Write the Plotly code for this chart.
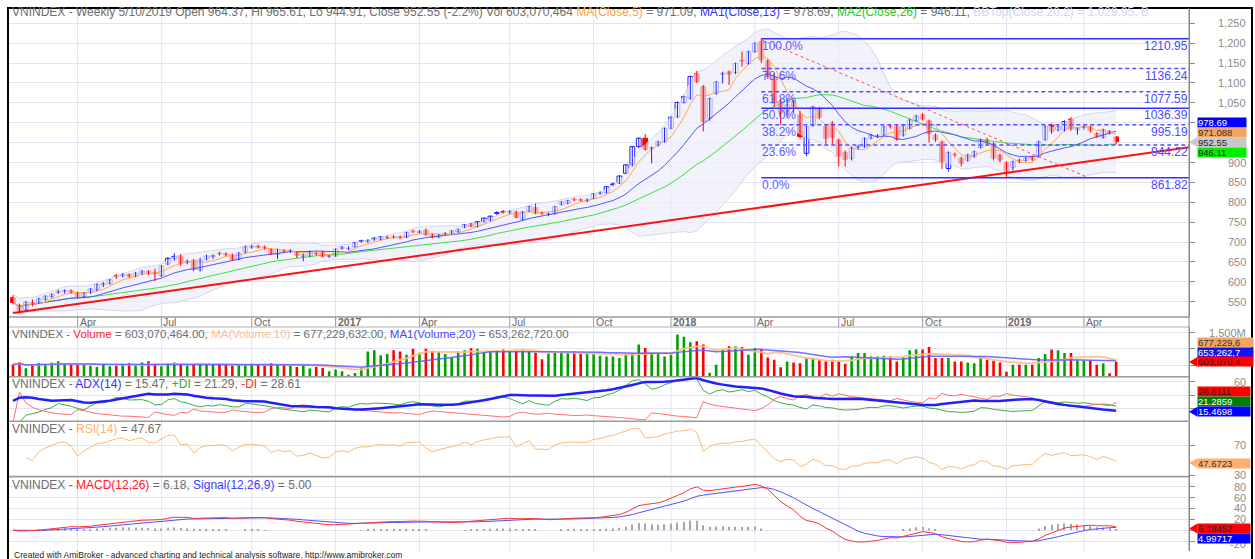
import numpy as np
import pandas as pd
import plotly.graph_objects as go

# ---------------- data (weekly VNINDEX) ----------------
opens = [560, 541, 530, 548, 547, 556, 563, 573, 576, 578, 573, 563, 573, 581, 592, 596, 615, 615, 619, 614,
         622, 627, 624, 616, 645, 658, 664, 648, 654, 630, 657, 663, 672, 671, 668, 657, 675, 687, 690, 688,
         681, 669, 677, 676, 673, 664, 665, 672, 674, 664, 665, 684, 683, 688, 701, 702, 706, 707, 711, 714,
         713, 712, 727, 724, 730, 718, 712, 720, 722, 726, 737, 745, 739, 751, 755, 772, 777, 775, 776, 757,
         778, 787, 774, 770, 771, 795, 797, 808, 807, 804, 810, 822, 824, 844, 848, 873, 894, 940, 961, 935,
         944, 952, 986, 1015, 1051, 1061, 1124, 1091, 1011, 1074, 1122, 1128, 1126, 1157, 1149, 1179, 1204, 1156, 1116, 1053,
         1030, 1053, 1020, 923, 994, 1036, 990, 999, 957, 925, 911, 938, 940, 961, 966, 969, 991, 990, 969, 986,
         1005, 1020, 1005, 969, 952, 885, 921, 911, 906, 916, 938, 957, 948, 919, 900, 888, 906, 905, 915, 915,
         957, 994, 982, 982, 1009, 982, 988, 990, 973, 963, 978, 964.37]
highs = [566, 545, 552, 556, 560, 566, 571, 580, 581, 581, 575, 574, 584, 596, 599, 607, 620, 622, 621, 625,
         630, 629, 633, 642, 662, 672, 670, 656, 657, 660, 668, 669, 676, 674, 671, 675, 691, 693, 693, 691,
         684, 683, 682, 682, 676, 671, 679, 676, 678, 668, 684, 690, 689, 700, 706, 707, 712, 715, 716, 717,
         716, 726, 731, 730, 734, 721, 720, 725, 730, 734, 745, 748, 753, 762, 767, 778, 780, 780, 779, 778,
         791, 797, 777, 774, 791, 803, 806, 811, 810, 810, 823, 827, 841, 850, 868, 896, 942, 963, 972, 940,
         955, 988, 1016, 1053, 1068, 1118, 1130, 1095, 1063, 1105, 1128, 1131, 1151, 1179, 1181, 1202, 1210.95, 1160, 1125, 1060,
         1062, 1058, 1030, 992, 1042, 1040, 995, 1004, 960, 930, 940, 945, 963, 972, 972, 992, 995, 995, 996, 1010,
         1020, 1024, 1008, 973, 955, 928, 925, 915, 922, 930, 960, 962, 951, 922, 903, 905, 910, 914, 918, 955,
         993, 998, 993, 1006, 1014, 988, 994, 993, 976, 985, 982, 965.61]
lows = [543, 522, 527, 538, 544, 552, 559, 569, 571, 570, 559, 560, 570, 576, 587, 593, 607, 611, 610, 612,
        618, 618, 602, 612, 642, 653, 640, 644, 627, 626, 654, 658, 666, 664, 653, 654, 672, 683, 684, 681,
        667, 657, 672, 673, 660, 652, 662, 666, 661, 660, 663, 681, 680, 686, 698, 698, 703, 705, 708, 709,
        707, 710, 722, 722, 716, 709, 710, 717, 719, 723, 735, 737, 737, 749, 753, 768, 772, 770, 760, 754,
        776, 770, 768, 765, 769, 792, 795, 803, 802, 800, 808, 819, 822, 841, 846, 871, 890, 936, 930, 898,
        940, 950, 984, 1012, 1048, 1058, 1100, 978, 1005, 1070, 1099, 1095, 1122, 1141, 1146, 1176, 1150, 1110, 1040, 995,
        1012, 1025, 960, 916, 990, 1010, 945, 944, 890, 890, 905, 933, 937, 958, 962, 966, 985, 955, 965, 983,
        1002, 1005, 950, 952, 884, 877, 913, 890, 902, 912, 935, 944, 905, 900, 861.82, 880, 898, 902, 903, 912,
        955, 972, 978, 978, 980, 970, 983, 975, 962, 960, 970, 944.91]
closes = [548, 528, 549, 546, 557, 564, 569, 576, 578, 574, 562, 572, 582, 593, 596, 605, 613, 618, 614, 622,
          627, 621, 620, 639, 659, 664, 646, 651, 631, 655, 665, 666, 670, 668, 656, 672, 688, 689, 687, 685,
          670, 680, 676, 679, 666, 668, 676, 670, 664, 665, 682, 687, 684, 698, 703, 704, 710, 713, 712, 713,
          711, 724, 726, 727, 718, 712, 718, 722, 728, 732, 743, 739, 751, 760, 765, 774, 775, 777, 762, 776,
          789, 772, 772, 771, 789, 801, 804, 806, 805, 806, 821, 824, 839, 846, 866, 894, 940, 961, 933, 937,
          952, 986, 1014, 1051, 1066, 1116, 1103, 1003, 1061, 1103, 1124, 1122, 1149, 1155, 1179, 1200, 1158, 1116, 1049, 1024,
          1045, 1040, 965, 990, 1040, 1014, 961, 963, 916, 908, 936, 940, 961, 969, 967, 990, 990, 957, 994, 1007,
          1017, 1009, 972, 957, 902, 925, 919, 898, 919, 927, 957, 948, 911, 906, 877, 902, 904, 911, 908, 952,
          990, 978, 990, 1003, 984, 985, 990, 980, 965, 982, 973, 952.55]
volume_m = [520, 580, 400, 500, 560, 520, 580, 620, 560, 520, 550, 500, 480, 440, 520, 460, 480, 500, 560, 520,
            580, 620, 520, 460, 560, 580, 500, 480, 520, 560, 540, 520, 560, 500, 480, 500, 520, 540, 520, 480,
            560, 520, 500, 480, 440, 520, 390, 440, 410, 310, 360, 310, 200, 250, 400, 920, 960, 800, 840, 960,
            920, 820, 1000, 880, 1000, 940, 900, 840, 720, 920, 960, 1020, 1000, 900, 920, 950, 980, 960, 940, 980,
            920, 880, 680, 860, 880, 920, 880, 920, 840, 880, 840, 788, 767, 767, 715, 820, 872, 1134, 1029, 872,
            872, 767, 820, 1448, 1374, 1207, 1238, 1134, 265, 505, 977, 1081, 1081, 1060, 820, 1029, 977, 736, 663, 432,
            610, 579, 558, 736, 715, 663, 631, 663, 610, 537, 767, 872, 872, 767, 767, 788, 767, 610, 767, 956,
            977, 977, 1060, 715, 715, 715, 610, 610, 579, 558, 767, 663, 631, 579, 296, 505, 505, 505, 505, 715,
            840, 977, 956, 872, 872, 642, 642, 642, 505, 558, 244, 603]

tick_idx = [10, 23, 37, 50, 63, 77, 90, 102, 115, 128, 141, 154, 166]
tick_text = ["Apr", "Jul", "Oct", "2017", "Apr", "Jul", "Oct", "2018", "Apr", "Jul", "Oct", "2019", "Apr"]
year_labels = ["2017", "2018", "2019"]

price_ticks = [550, 600, 650, 700, 750, 800, 850, 900, 950, 1000, 1050, 1100, 1150, 1200, 1250]
price_tick_labels = ["550", "600", "650", "700", "750", "800", "850", "900", "", "", "1,050", "1,100",
                     "1,150", "1,200", "1,250"]   # 950 / 1,000 sit behind the value tags
vol_ticks = [500, 1000, 1500]
adx_ticks = [20, 40, 60]
rsi_ticks = [30, 70]
macd_ticks = [-20, 0, 20, 40, 60, 80]

fib_labels = ["100.0%", "78.6%", "61.8%", "50.0%", "38.2%", "23.6%", "0.0%"]
fib_values = [1210.95, 1136.24, 1077.59, 1036.39, 995.19, 944.22, 861.82]
fib_solid = [True, False, False, True, False, False, True]
fib_start = 116
trend_x = [0, 182.3]
trend_y = [521.7, 938.5]
dash_x = [116.1, 166.7]
dash_y = [1208, 862]

N = len(closes)
assert len(opens) == len(highs) == len(lows) == N == len(volume_m)
idx = list(range(N))

# ---------------- indicators (computed from the series above) ----------------
c = pd.Series(closes, dtype=float)
h = pd.Series(highs, dtype=float)
l = pd.Series(lows, dtype=float)
ma5 = c.rolling(5, min_periods=1).mean()
ma13 = c.rolling(13, min_periods=1).mean()
ma26 = c.rolling(26, min_periods=1).mean()
bb_mid = c.rolling(20, min_periods=1).mean()
bb_sd = c.rolling(20, min_periods=2).std(ddof=0).bfill()
bb_up = bb_mid + 2 * bb_sd
bb_lo = bb_mid - 2 * bb_sd

v = pd.Series(volume_m, dtype=float)
vma10 = v.rolling(10, min_periods=1).mean()
vma20 = v.rolling(20, min_periods=1).mean()


def wilder(s, n):
    return s.ewm(alpha=1.0 / n, adjust=True).mean()


pc = c.shift(1)
tr = pd.concat([h - l, (h - pc).abs(), (l - pc).abs()], axis=1).max(axis=1)
upm = h - h.shift(1)
dnm = l.shift(1) - l
pdm = upm.where((upm > dnm) & (upm > 0), 0.0).fillna(0)
mdm = dnm.where((dnm > upm) & (dnm > 0), 0.0).fillna(0)
atr = wilder(tr, 14)
pdi = 100 * wilder(pdm, 14) / atr
mdi = 100 * wilder(mdm, 14) / atr
dx = (100 * (pdi - mdi).abs() / (pdi + mdi))
dx.iloc[0] = dx.iloc[1:15].mean()   # Wilder seed: mean of the first 14 DX values
adx = dx.ewm(alpha=1 / 14, adjust=False).mean()

delta = c.diff()
gain = delta.clip(lower=0)
loss = (-delta).clip(lower=0)
ag = gain.ewm(alpha=1 / 14, adjust=True, min_periods=2).mean()
al = loss.ewm(alpha=1 / 14, adjust=True, min_periods=2).mean()
rsi = 100 - 100 / (1 + ag / al)

ema12 = c.ewm(span=12, adjust=False).mean()
ema26 = c.ewm(span=26, adjust=False).mean()
macd = ema12 - ema26
signal = macd.ewm(span=9, adjust=False).mean()
hist = macd - signal

# ---------------- geometry helpers ----------------
W, H = 1255, 559
ML, MR, MT, MB = 8, 66, 8, 8
PW = W - ML - MR
PH = H - MT - MB


def px(x):
    return (x - ML) / PW


def py(y):
    return (H - MB - y) / PH


panels = {
    "price": (8, 317),
    "vol": (327, 376.5),
    "adx": (377, 421),
    "rsi": (421.5, 476.5),
    "macd": (477, 551),
}
# value v0 sits at pixel row y0, s pixels per unit
scales = {
    "price": (1250, 23.3, 278.4 / 700),
    "vol": (1500, 332.7, 0.03233),
    "adx": (60, 381.7, 0.674),
    "rsi": (70, 445, 0.75),
    "macd": (0, 530.2, 0.545),
}


def rng(key):
    v0, y0, s = scales[key]
    ytop, ybot = panels[key]
    return [v0 - (ybot - y0) / s, v0 + (y0 - ytop) / s]


def val_to_py(key, val):
    v0, y0, s = scales[key]
    return y0 - (val - v0) * s


FONT = "Liberation Sans, Arial, sans-serif"
GRID = "#e3e3f3"
UP = "#2020ff"
DN = "#ff0000"

fig = go.Figure()

# Bollinger band
fig.add_trace(go.Scatter(x=idx, y=bb_lo, mode="lines", line=dict(color="rgba(210,210,238,0.9)", width=1),
                         hoverinfo="skip", showlegend=False, yaxis="y"))
fig.add_trace(go.Scatter(x=idx, y=bb_up, mode="lines", line=dict(color="rgba(210,210,238,0.9)", width=1),
                         fill="tonexty", fillcolor="rgba(236,236,250,0.7)", hoverinfo="skip", showlegend=False,
                         yaxis="y"))
# trend line (solid red)
fig.add_trace(go.Scatter(x=trend_x, y=trend_y, mode="lines", line=dict(color="#ff1010", width=2),
                         showlegend=False, yaxis="y"))
# moving averages
fig.add_trace(go.Scatter(x=idx, y=ma26, mode="lines", line=dict(color="#44dd44", width=1), showlegend=False))
fig.add_trace(go.Scatter(x=idx, y=ma13, mode="lines", line=dict(color="#5555ff", width=1), showlegend=False))
fig.add_trace(go.Scatter(x=idx, y=ma5, mode="lines", line=dict(color="#ffa850", width=1), showlegend=False))

# candles: wicks then bodies
up_mask = [cl >= op for op, cl in zip(opens, closes)]
for is_up, col in [(True, UP), (False, DN)]:
    wx, wy = [], []
    for i in idx:
        if up_mask[i] == is_up:
            wx += [i, i, None]
            wy += [lows[i], highs[i], None]
    fig.add_trace(go.Scatter(x=wx, y=wy, mode="lines", line=dict(color=col, width=1), hoverinfo="skip",
                             showlegend=False, yaxis="y"))
for is_up, fill, col in [(True, "white", UP), (False, DN, DN)]:
    bx = [i for i in idx if up_mask[i] == is_up]
    bbase = [min(opens[i], closes[i]) for i in bx]
    bh = [max(abs(closes[i] - opens[i]), 1.2) for i in bx]
    fig.add_trace(go.Bar(x=bx, y=bh, base=bbase, width=0.74, marker=dict(color=fill, line=dict(color=col, width=1)),
                         showlegend=False, yaxis="y"))

# dashed red trend line
fig.add_trace(go.Scatter(x=dash_x, y=dash_y, mode="lines", line=dict(color="#ff5050", width=1, dash="3px,3px"),
                         showlegend=False, yaxis="y"))
# fibonacci lines
annotations = []
for lab, val, solid in zip(fib_labels, fib_values, fib_solid):
    fig.add_trace(go.Scatter(x=[fib_start, trend_x[1]], y=[val, val], mode="lines",
                             line=dict(color="#3030ff" if solid else "#5050ff", width=1.5,
                                       dash="solid" if solid else "4px,3px"),
                             showlegend=False, yaxis="y"))
    annotations.append(dict(x=fib_start, y=py(val_to_py("price", val)), xref="x", yref="paper", text=lab,
                            showarrow=False, xanchor="left", yanchor="top",
                            font=dict(size=12, color="#5a5aff", family=FONT), borderpad=0, yshift=1))
    annotations.append(dict(x=px(1189), y=py(val_to_py("price", val)), xref="paper", yref="paper",
                            text=f"{val:.2f}", showarrow=False, xanchor="right", yanchor="top",
                            font=dict(size=12, color="#4a4aff", family=FONT), borderpad=0, yshift=1))

# volume
vcol = ["#00a000" if u else "#ff0000" for u in up_mask]
fig.add_trace(go.Bar(x=idx, y=volume_m, marker=dict(color=vcol, line=dict(width=0)), width=0.4,
                     base=0, showlegend=False, yaxis="y2"))
fig.add_trace(go.Scatter(x=idx, y=vma10, mode="lines", line=dict(color="rgba(255,190,140,0.9)", width=2),
                         showlegend=False, yaxis="y2"))
fig.add_trace(go.Scatter(x=idx, y=vma20, mode="lines", line=dict(color="rgba(90,90,255,0.85)", width=1.5),
                         showlegend=False, yaxis="y2"))
# ADX
fig.add_trace(go.Scatter(x=idx, y=pdi, mode="lines", line=dict(color="#44aa44", width=1), showlegend=False,
                         yaxis="y3"))
fig.add_trace(go.Scatter(x=idx, y=mdi, mode="lines", line=dict(color="#ff7070", width=1), showlegend=False,
                         yaxis="y3"))
fig.add_trace(go.Scatter(x=idx, y=adx, mode="lines", line=dict(color="#2020ff", width=2.5), showlegend=False,
                         yaxis="y3"))
# RSI
fig.add_trace(go.Scatter(x=idx, y=rsi, mode="lines", line=dict(color="#ffb878", width=1), showlegend=False,
                         yaxis="y4"))
# MACD (histogram shown on its positive side, as in the reference)
hcol = ["#a8a8a8" if hv >= 0 else "rgba(0,0,0,0)" for hv in hist]
fig.add_trace(go.Bar(x=idx, y=hist, marker=dict(color=hcol, line=dict(width=0)), width=0.18,
                     showlegend=False, yaxis="y5"))
fig.add_trace(go.Scatter(x=idx, y=signal, mode="lines", line=dict(color="#5050ff", width=1), showlegend=False,
                         yaxis="y5"))
fig.add_trace(go.Scatter(x=idx, y=macd, mode="lines", line=dict(color="#ff3030", width=1), showlegend=False,
                         yaxis="y5"))


def yax(key, ticks):
    top, bot = panels[key]
    return dict(domain=[py(bot), py(top)], range=rng(key), side="right", anchor="x", tickvals=ticks,
                showticklabels=False, ticks="outside", ticklen=5, tickcolor="#8a8a8a",
                showgrid=True, gridcolor=GRID, gridwidth=1, zeroline=False,
                showline=True, linecolor="#8a8a8a", linewidth=1, fixedrange=True)


fig.update_layout(
    width=W, height=H, margin=dict(l=ML, r=MR, t=MT, b=MB),
    paper_bgcolor="white", plot_bgcolor="white", showlegend=False, barmode="overlay",
    font=dict(family=FONT, size=11, color="#777"),
    xaxis=dict(range=[-0.78, trend_x[1]], domain=[0, 1], anchor="y5", showgrid=False, showticklabels=False,
               zeroline=False, fixedrange=True, ticks=""),
    yaxis=yax("price", price_ticks),
    yaxis2=yax("vol", vol_ticks),
    yaxis3=yax("adx", adx_ticks),
    yaxis4=yax("rsi", rsi_ticks),
    yaxis5=yax("macd", macd_ticks),
)

shapes = []
# vertical gridlines per panel and date ticks
for t in tick_idx:
    for key, (top, bot) in panels.items():
        shapes.append(dict(type="line", xref="x", yref="paper", x0=t, x1=t, y0=py(bot), y1=py(top),
                           line=dict(color=GRID, width=1), layer="below"))
    shapes.append(dict(type="line", xref="x", yref="paper", x0=t, x1=t, y0=py(327), y1=py(317),
                       line=dict(color="#9a9a9a", width=1)))
# panel separators
for ysep, col, wd in [(317, "#9a9a9a", 1.5), (327, "#b0b0b0", 1), (376.8, "#9a9a9a", 1.5),
                      (421.3, "#9a9a9a", 1.5), (476.8, "#9a9a9a", 1.5)]:
    shapes.append(dict(type="line", xref="paper", yref="paper", x0=0, x1=px(1189), y0=py(ysep), y1=py(ysep),
                       line=dict(color=col, width=wd)))
# frame
shapes.append(dict(type="line", xref="paper", yref="paper", x0=px(8), x1=px(8), y0=py(559), y1=py(7.5),
                   line=dict(color="black", width=2)))
shapes.append(dict(type="line", xref="paper", yref="paper", x0=px(7), x1=px(1253), y0=py(8), y1=py(8),
                   line=dict(color="black", width=2)))
shapes.append(dict(type="line", xref="paper", yref="paper", x0=px(1252), x1=px(1252), y0=py(559), y1=py(7.5),
                   line=dict(color="black", width=2)))
shapes.append(dict(type="line", xref="paper", yref="paper", x0=px(1189), x1=px(1189), y0=py(551), y1=py(8),
                   line=dict(color="#8a8a8a", width=1)))

# date labels
for t, txt in zip(tick_idx, tick_text):
    label = f"<b>{txt}</b>" if txt in year_labels else txt
    annotations.append(dict(x=t, y=py(321.5), xref="x", yref="paper", text=label, showarrow=False,
                            xanchor="left", yanchor="middle", xshift=1, borderpad=0,
                            font=dict(size=10.5, color="#6a6a6a", family=FONT)))


# right axis labels (placed in page coordinates from each panel's scale)
def axis_labels(key, ticks, labels, shift=0):
    for tv, lab in zip(ticks, labels):
        if not lab:
            continue
        annotations.append(dict(x=px(1248), y=py(val_to_py(key, tv) + shift), xref="paper", yref="paper",
                                text=lab, showarrow=False, xanchor="right", yanchor="middle",
                                font=dict(size=11, color="#8c8c8c", family=FONT)))


axis_labels("price", price_ticks, price_tick_labels)
axis_labels("vol", [1500], ["1,500M"])
axis_labels("adx", [60], ["60"])
axis_labels("rsi", rsi_ticks, [str(t) for t in rsi_ticks])
axis_labels("macd", [80, 60, 40, 20], ["80", "60", "40", "20"])
axis_labels("macd", [-20], ["-20"], shift=3)

# headers
G = "#6e6e6e"
headers = [
    (12, 12, 'VNINDEX - Weekly 5/10/2019 Open 964.37, Hi 965.61, Lo 944.91, Close 952.55 (-2.2%) Vol 603,070,464 '
             '<span style="color:#ffa040">MA(Close,5)</span> = 971.09, '
             '<span style="color:#3030ff">MA1(Close,13)</span> = 978.69, '
             '<span style="color:#22cc22">MA2(Close,26)</span> = 946.11, '
             '<span style="color:#d4d4f0">BBTop(Close,20,2) = 1,029.95, B</span>'),
    (334, 11.5, 'VNINDEX - <span style="color:#ff2020">Volume</span> = 603,070,464.00, '
                '<span style="color:#ffbe8a">MA(Volume,10)</span> = 677,229,632.00, '
                '<span style="color:#4848ff">MA1(Volume,20)</span> = 653,262,720.00'),
    (384, 12, 'VNINDEX - <span style="color:#3030ff">ADX(14)</span> = 15.47, '
              '<span style="color:#33aa33">+DI</span> = 21.29, <span style="color:#ff3030">-DI</span> = 28.61'),
    (428.5, 12, 'VNINDEX - <span style="color:#ffb070">RSI(14)</span> = 47.67'),
    (485, 12, 'VNINDEX - <span style="color:#ff2020">MACD(12,26)</span> = 6.18, '
              '<span style="color:#4040ff">Signal(12,26,9)</span> = 5.00'),
]
for ypx, fs, txt in headers:
    annotations.append(dict(x=px(11), y=py(ypx), xref="paper", yref="paper", text=txt, showarrow=False,
                            xanchor="left", yanchor="middle", borderpad=0,
                            font=dict(size=fs, color=G, family=FONT)))
annotations.append(dict(x=px(12), y=py(555), xref="paper", yref="paper",
                        text="Created with AmiBroker - advanced charting and technical analysis software. "
                             "http://www.amibroker.com",
                        showarrow=False, xanchor="left", yanchor="middle",
                        font=dict(size=8.5, color="#222", family=FONT)))

# value tags on the right axis
tags = [
    ("978.69", 122.8, "#0000ff", "white", False, 48),
    ("971.088", 132.4, "#f4a460", "#333", False, 48),
    ("952.55", 142.0, "#c8c8c8", "#222", True, 48),
    ("946.11", 152.6, "#00ee00", "#222", False, 48),
    ("677,229,6", 342.7, "#f4a460", "#333", False, 55),
    ("653,262,7", 352.3, "#1010ff", "white", False, 55),
    ("603,070,4", 361.9, "#ff0000", "#222", True, 55),
    ("28.6111", 391.7, "#ff0000", "#222", False, 52),
    ("21.2859", 401.7, "#008000", "white", False, 52),
    ("15.4698", 411.7, "#0000ff", "white", True, 52),
    ("47.6723", 463.0, "#ffb070", "#333", True, 52),
    ("6.18452", 528.4, "#ff0000", "#222", True, 52),
    ("4.99717", 538.0, "#0000ff", "white", False, 52),
]
for text, ypx, bg, fg, arrow, wd in tags:
    annotations.append(dict(x=px(1197), y=py(ypx), xref="paper", yref="paper", text=text, showarrow=False,
                            xanchor="left", yanchor="middle", bgcolor=bg, width=wd, height=9, align="left",
                            borderpad=0, font=dict(size=9.5, color=fg, family=FONT)))
    if arrow:
        shapes.append(dict(type="path", xref="paper", yref="paper",
                           path=f"M {px(1189)},{py(ypx)} L {px(1197.5)},{py(ypx - 5)} "
                                f"L {px(1197.5)},{py(ypx + 5)} Z",
                           fillcolor=bg, line=dict(width=0)))

fig.update_layout(shapes=shapes, annotations=annotations)
fig.write_html("out.html", config={"displayModeBar": False},
               post_script="document.body.style.margin='0px';")
